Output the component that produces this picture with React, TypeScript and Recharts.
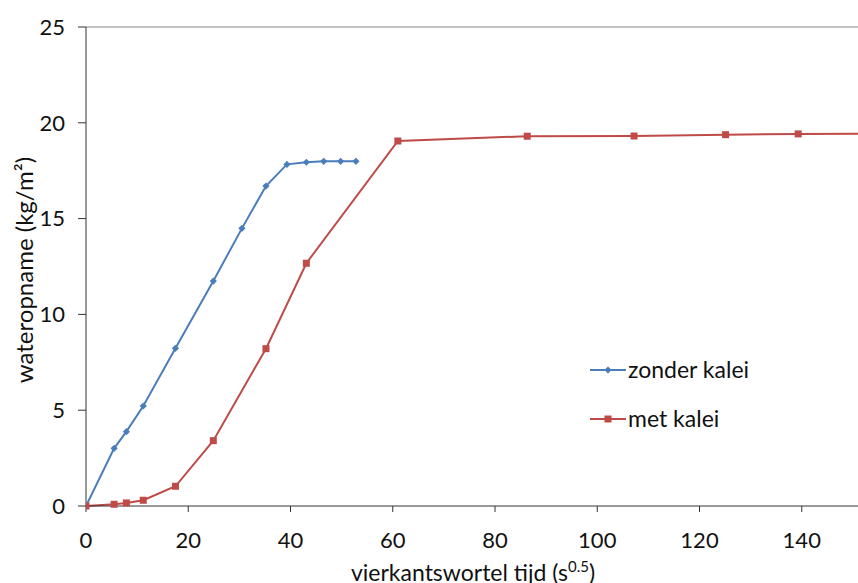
import { LineChart, Line, XAxis, YAxis, ReferenceLine } from 'recharts';

// ── Data ──────────────────────────────────────────────────────────────────────

const zonderX = [0, 5.5, 7.9, 11.2, 17.5, 24.9, 30.5, 35.2, 39.3, 43.1, 46.5, 49.8, 52.8];
const zonderY = [0, 3.01, 3.88, 5.22, 8.23, 11.74, 14.49, 16.7, 17.83, 17.94, 17.99, 17.99, 17.99];

const metX = [0, 5.5, 7.9, 11.2, 17.5, 24.9, 35.2, 43.1, 61.0, 86.3, 107.2, 125.1, 139.3, 158];
const metY = [0, 0.09, 0.16, 0.3, 1.03, 3.41, 8.21, 12.67, 19.05, 19.3, 19.31, 19.38, 19.42, 19.44];

const xTicks = [0, 20, 40, 60, 80, 100, 120, 140];
const yTicks = [0, 5, 10, 15, 20, 25];

const zonder = zonderX.map((x, i) => ({ x, y: zonderY[i] }));
const met = metX.map((x, i) => ({ x, y: metY[i] }));

const BLUE = '#4A7EBB';
const RED = '#BE4B48';
const INK = '#111';
const FONT = 'Lato, "Open Sans", sans-serif';

// ── Markers ───────────────────────────────────────────────────────────────────

function Diamond({ cx, cy }: any) {
    if (cx == null || cy == null) return null;
    const r = 3.6;
    return <path d={`M${cx},${cy - r}L${cx + r},${cy}L${cx},${cy + r}L${cx - r},${cy}Z`} fill={BLUE} />;
}

function Square({ cx, cy }: any) {
    if (cx == null || cy == null) return null;
    return <rect x={cx - 3.5} y={cy - 3.5} width={7} height={7} fill={RED} />;
}

// ── Legend ────────────────────────────────────────────────────────────────────

function LegendRow({ color, label, marker }: { color: string; label: string; marker: 'd' | 's' }) {
    return (
        <div style={{ display: 'flex', alignItems: 'center', height: 49 }}>
            <svg width={36} height={12}>
                <line x1={0} y1={6} x2={36} y2={6} stroke={color} strokeWidth={2} />
                {marker === 'd' ? <Diamond cx={18} cy={6} /> : <Square cx={18} cy={6} />}
            </svg>
            <span style={{ fontSize: 23, color: INK, marginLeft: 2, lineHeight: '23px' }}>{label}</span>
        </div>
    );
}

// ── Chart ─────────────────────────────────────────────────────────────────────

export default function App() {
    return (
        <div style={{ position: 'absolute', left: 0, top: 0, width: 858, height: 583, overflow: 'hidden', fontFamily: FONT, background: '#fff' }}>
            <LineChart width={858} height={583} margin={{ top: 27, right: 0, bottom: 0, left: 0 }}>
                <XAxis
                    type="number"
                    dataKey="x"
                    domain={[0, 151]}
                    ticks={xTicks}
                    allowDataOverflow
                    height={77}
                    tick={{ fill: INK, fontSize: 22, fontFamily: FONT }}
                    tickMargin={20}
                    tickSize={6}
                    axisLine={{ stroke: '#333' }}
                    tickLine={{ stroke: '#333' }}
                />
                <YAxis
                    type="number"
                    dataKey="y"
                    domain={[0, 25]}
                    ticks={yTicks}
                    width={86}
                    tick={{ fill: INK, fontSize: 22, fontFamily: FONT }}
                    tickMargin={13}
                    tickSize={8}
                    axisLine={{ stroke: '#333' }}
                    tickLine={{ stroke: '#333' }}
                />
                <ReferenceLine y={25} stroke="#868686" strokeWidth={1} />
                <Line
                    data={zonder}
                    dataKey="y"
                    stroke={BLUE}
                    strokeWidth={2}
                    dot={<Diamond />}
                    activeDot={false}
                    isAnimationActive={false}
                />
                <Line
                    data={met}
                    dataKey="y"
                    stroke={RED}
                    strokeWidth={2}
                    dot={<Square />}
                    activeDot={false}
                    isAnimationActive={false}
                />
            </LineChart>

            <svg width={858} height={583} style={{ position: 'absolute', left: 0, top: 0, pointerEvents: 'none' }}>
                <text
                    x={33}
                    y={270}
                    transform="rotate(-90 33 270)"
                    textAnchor="middle"
                    fontSize={24}
                    fill={INK}
                    fontFamily={FONT}
                >
                    wateropname (kg/m²)
                </text>
                <text x={473} y={581} textAnchor="middle" fontSize={23} fill={INK} fontFamily={FONT}>
                    vierkantswortel tijd (s
                    <tspan fontSize={15} dy={-9}>0.5</tspan>
                    <tspan dy={9}>)</tspan>
                </text>
            </svg>

            <div style={{ position: 'absolute', left: 590, top: 345 }}>
                <LegendRow color={BLUE} label="zonder kalei" marker="d" />
                <LegendRow color={RED} label="met kalei" marker="s" />
            </div>
        </div>
    );
}
